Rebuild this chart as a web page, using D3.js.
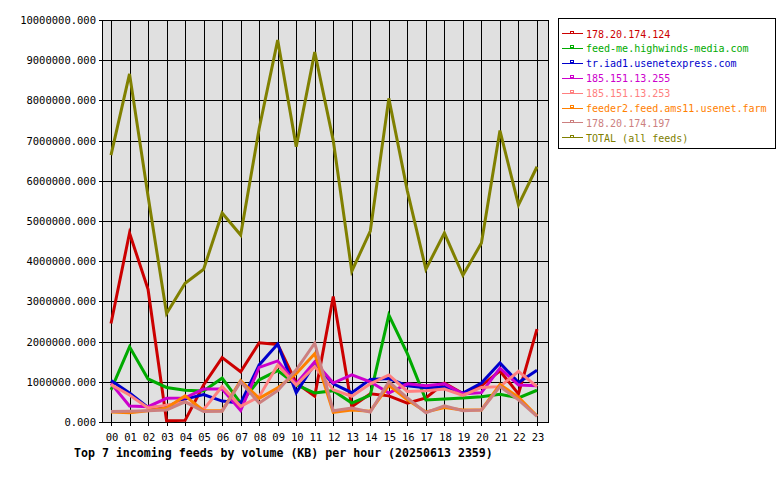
<!DOCTYPE html>
<html>
<head>
<meta charset="utf-8">
<script src="https://cdn.jsdelivr.net/npm/d3@7"></script>
<style>
  body { margin: 0; background: #fff; }
  svg text { font-family: "DejaVu Sans Mono", monospace; }
</style>
</head>
<body>
<div id="chart"></div>
<script>
const hours = ["00","01","02","03","04","05","06","07","08","09","10","11","12","13","14","15","16","17","18","19","20","21","22","23"]
const feedNames = ["178.20.174.124", "feed-me.highwinds-media.com", "tr.iad1.usenetexpress.com", "185.151.13.255", "185.151.13.253", "feeder2.feed.ams11.usenet.farm", "178.20.174.197", "TOTAL (all feeds)"]
const feedColors = ["#cc0000", "#00aa00", "#0000cc", "#cc00cc", "#ff8080", "#ff8000", "#cc8080", "#808000"]

// KB per hour
const red = [2450000, 4700000, 3300000, 30000, 40000, 920000, 1600000, 1250000, 1970000, 1930000, 970000, 640000, 3120000, 380000, 700000, 650000, 470000, 600000, 970000, 710000, 900000, 1270000, 700000, 2310000]
const green = [800000, 1870000, 1070000, 860000, 790000, 770000, 1090000, 470000, 1050000, 1280000, 930000, 720000, 780000, 470000, 670000, 2660000, 1700000, 550000, 570000, 600000, 630000, 690000, 600000, 790000]
const blue = [1030000, 720000, 360000, 380000, 570000, 680000, 520000, 470000, 1420000, 1940000, 730000, 1450000, 950000, 730000, 1060000, 1080000, 900000, 850000, 870000, 720000, 970000, 1470000, 980000, 1290000]
const magenta = [960000, 400000, 380000, 590000, 600000, 820000, 820000, 290000, 1360000, 1520000, 950000, 1500000, 970000, 1170000, 1000000, 720000, 950000, 900000, 950000, 700000, 730000, 1340000, 920000, 900000]
const salmon = [930000, 670000, 350000, 420000, 500000, 310000, 880000, 390000, 630000, 1420000, 920000, 1380000, 800000, 640000, 950000, 1170000, 760000, 780000, 820000, 660000, 860000, 880000, 1260000, 880000]
const orange = [250000, 230000, 280000, 350000, 650000, 280000, 280000, 1030000, 590000, 850000, 1200000, 1700000, 240000, 300000, 270000, 910000, 550000, 250000, 360000, 300000, 300000, 930000, 620000, 150000]
const rosy = [260000, 270000, 280000, 300000, 500000, 260000, 270000, 1000000, 470000, 780000, 1300000, 1960000, 280000, 350000, 250000, 1000000, 600000, 230000, 400000, 280000, 300000, 880000, 550000, 140000]
const total = [6640000, 8660000, 5620000, 2700000, 3450000, 3800000, 5200000, 4650000, 7300000, 9500000, 6850000, 9200000, 7000000, 3750000, 4750000, 8050000, 5750000, 3800000, 4700000, 3650000, 4450000, 7250000, 5400000, 6350000]

const series = [red, green, blue, magenta, salmon, orange, rosy, total]

const width = 780, height = 480
const plotLeft = 102, plotRight = 548, plotTop = 20, plotBottom = 422

const x = d3.scalePoint().domain(hours).range([111, 537])
const y = d3.scaleLinear().domain([0, 10000000]).range([plotBottom, plotTop])

const svg = d3.select("#chart")
  .append("svg")
  .attr("width", width)
  .attr("height", height)

// plot background
svg.append("rect")
  .attr("x", plotLeft).attr("y", plotTop)
  .attr("width", plotRight - plotLeft).attr("height", plotBottom - plotTop)
  .attr("fill", "#e0e0e0")

// grid
const grid = svg.append("g")
  .attr("stroke", "#000")
  .attr("stroke-width", 1)
  .attr("shape-rendering", "crispEdges")

grid.selectAll(".h")
  .data(y.ticks(10))
  .join("line")
  .attr("x1", plotLeft - 3).attr("x2", plotRight)
  .attr("y1", d => Math.round(y(d)) + 0.5).attr("y2", d => Math.round(y(d)) + 0.5)

grid.selectAll(".v")
  .data(hours)
  .join("line")
  .attr("x1", d => Math.round(x(d)) + 0.5).attr("x2", d => Math.round(x(d)) + 0.5)
  .attr("y1", plotTop).attr("y2", plotBottom + 4)

// frame
svg.append("rect")
  .attr("x", plotLeft + 0.5).attr("y", plotTop + 0.5)
  .attr("width", plotRight - plotLeft).attr("height", plotBottom - plotTop)
  .attr("fill", "none")
  .attr("stroke", "#000")
  .attr("shape-rendering", "crispEdges")

// y labels
svg.append("g")
  .attr("font-size", 10.5)
  .attr("text-anchor", "end")
  .selectAll("text")
  .data(y.ticks(10))
  .join("text")
  .attr("x", 96)
  .attr("y", d => y(d) + 4)
  .text(d => d3.format(".3f")(d))

// x labels
svg.append("g")
  .attr("font-size", 10.5)
  .attr("text-anchor", "middle")
  .selectAll("text")
  .data(hours)
  .join("text")
  .attr("x", d => x(d) + 1)
  .attr("y", 441)
  .text(d => d)

// lines
const line = d3.line()
  .x((d, i) => x(hours[i]))
  .y(d => y(d))

svg.append("g")
  .attr("fill", "none")
  .attr("stroke-width", 3)
  .attr("stroke-linejoin", "miter")
  .selectAll("path")
  .data(series)
  .join("path")
  .attr("stroke", (d, i) => feedColors[i])
  .attr("d", line)

// title
svg.append("text")
  .attr("x", 74)
  .attr("y", 457)
  .attr("font-size", 11.6)
  .attr("font-weight", "bold")
  .text("Top 7 incoming feeds by volume (KB) per hour (20250613 2359)")

// legend
const legend = svg.append("g")

legend.append("rect")
  .attr("x", 558.5).attr("y", 18.5)
  .attr("width", 217).attr("height", 130)
  .attr("fill", "#fff")
  .attr("stroke", "#000")
  .attr("shape-rendering", "crispEdges")

const item = legend.selectAll("g")
  .data(feedNames)
  .join("g")
  .attr("transform", (d, i) => `translate(0, ${33.5 + i * 14.9})`)

item.append("line")
  .attr("x1", 562).attr("x2", 583)
  .attr("y1", 0).attr("y2", 0)
  .attr("stroke", (d, i) => feedColors[i])
  .attr("shape-rendering", "crispEdges")

item.append("rect")
  .attr("x", 570.5).attr("y", -2.5)
  .attr("width", 3).attr("height", 2)
  .attr("fill", "none")
  .attr("stroke", (d, i) => feedColors[i])
  .attr("shape-rendering", "crispEdges")

item.append("text")
  .attr("x", 586)
  .attr("y", 4)
  .attr("font-size", 10)
  .attr("fill", (d, i) => feedColors[i])
  .text(d => d)
</script>
</body>
</html>
